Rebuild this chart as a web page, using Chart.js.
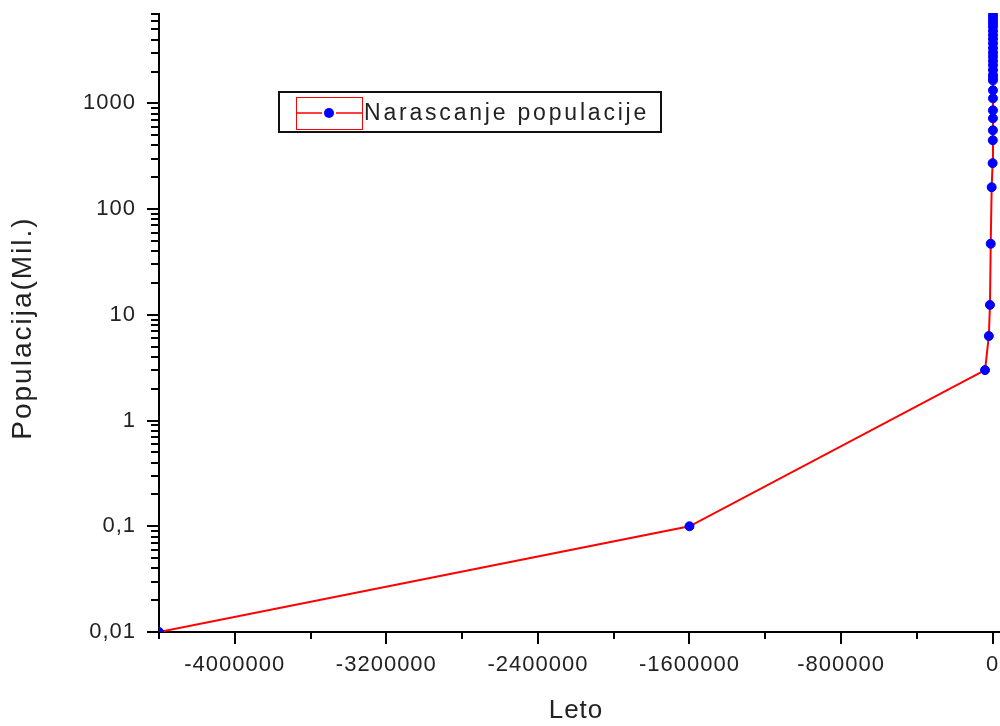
<!DOCTYPE html>
<html><head><meta charset="utf-8">
<script src="https://cdn.jsdelivr.net/npm/chart.js@4"></script>
<style>html,body{margin:0;padding:0;background:#fff}#wrap{width:1000px;height:726px}</style>
</head><body><div id="wrap"><canvas id="c" width="1000" height="726"></canvas></div>
<script>
const years = [-4400000, -1600000, -40000, -20000, -14000, -10000, -5000, 1, 1000, 1500, 1600, 1700, 1800, 1850, 1900, 1910, 1920, 1930, 1940, 1950, 1955, 1960, 1965, 1970, 1975, 1980, 1985, 1990, 1995, 2000, 2005, 2010];
const population = [0.01, 0.1, 3, 6.3, 12.4, 47, 161, 272, 448, 556, 722, 859, 1115, 1330, 1650, 1750, 1860, 2070, 2300, 2520, 2770, 3020, 3330, 3700, 4070, 4440, 4850, 5310, 5720, 6120, 6500, 6900];
const xTickValues = [-4000000, -3200000, -2400000, -1600000, -800000, 0];
const xMinorValues = [-4400000, -3600000, -2800000, -2000000, -1200000, -400000];
const yTickValues = [0.01, 0.1, 1, 10, 100, 1000];
const yTickLabels = ['0,01', '0,1', '1', '10', '100', '1000'];
const seriesLabel = 'Narascanje populacije';
const xTitle = 'Leto';
const yTitle = 'Populacija(Mil.)';

const textColor = '#222';
const fontFamily = "'Liberation Sans', Arial, sans-serif";

const axisPlugin = {
  id: 'axisDecor',
  beforeDraw(chart) {
    chart.ctx.letterSpacing = '1px';
  },
  afterDraw(chart) {
    const ctx = chart.ctx, xs = chart.scales.x, ys = chart.scales.y, a = chart.chartArea;
    ctx.save();
    ctx.strokeStyle = '#000';
    ctx.lineWidth = 2;
    ctx.beginPath();
    xTickValues.forEach(v => { const p = Math.round(xs.getPixelForValue(v)); ctx.moveTo(p, a.bottom); ctx.lineTo(p, a.bottom + 12); });
    xMinorValues.forEach(v => { const p = Math.round(xs.getPixelForValue(v)); ctx.moveTo(p, a.bottom); ctx.lineTo(p, a.bottom + 7); });
    yTickValues.forEach(v => { const p = Math.round(ys.getPixelForValue(v)); ctx.moveTo(a.left - 12, p); ctx.lineTo(a.left, p); });
    for (let e = -2; e <= 3; e++) {
      for (let k = 2; k <= 9; k++) {
        const v = k * Math.pow(10, e);
        if (v > ys.max) continue;
        const p = Math.round(ys.getPixelForValue(v));
        ctx.moveTo(a.left - 8, p); ctx.lineTo(a.left, p);
      }
    }
    ctx.moveTo(a.right, a.bottom); ctx.lineTo(1000, a.bottom);
    ctx.stroke();

    // y axis title
    ctx.save();
    ctx.translate(23, 328);
    ctx.rotate(-Math.PI / 2);
    ctx.fillStyle = textColor;
    ctx.font = "28px " + fontFamily;
    ctx.letterSpacing = '2px';
    ctx.textAlign = 'center';
    ctx.textBaseline = 'middle';
    ctx.fillText(yTitle, 0, 0);
    ctx.restore();

    // legend box
    const ds = chart.data.datasets[0];
    const bx = 279, by = 92, bw = 382, bh = 40;
    ctx.lineWidth = 2;
    ctx.strokeStyle = '#111';
    ctx.fillStyle = '#fff';
    ctx.fillRect(bx, by, bw, bh);
    ctx.strokeRect(bx, by, bw, bh);
    ctx.lineWidth = 1;
    ctx.strokeStyle = ds.borderColor;
    ctx.strokeRect(296.5, 97.5, 66, 32);
    ctx.lineWidth = 1.5;
    ctx.beginPath();
    ctx.moveTo(296, 113); ctx.lineTo(322, 113);
    ctx.moveTo(336, 113); ctx.lineTo(363, 113);
    ctx.stroke();
    ctx.fillStyle = ds.pointBackgroundColor;
    ctx.beginPath(); ctx.arc(329, 113, 5, 0, Math.PI * 2); ctx.fill();
    ctx.fillStyle = textColor;
    ctx.font = "23px " + fontFamily;
    ctx.letterSpacing = '2.8px';
    ctx.textBaseline = 'middle';
    ctx.textAlign = 'left';
    ctx.fillText(ds.label, 364, 114);
    ctx.restore();
    ctx.letterSpacing = '0px';
  }
};

new Chart(document.getElementById('c'), {
  type: 'scatter',
  data: {
    datasets: [{
      label: seriesLabel,
      data: years.map((x, i) => ({ x: x, y: population[i] })),
      showLine: true,
      borderColor: '#ff0000',
      borderWidth: 2,
      pointBackgroundColor: '#0000ff',
      pointBorderColor: '#0000ff',
      pointBorderWidth: 1,
      pointRadius: 4.5,
      tension: 0,
      clip: { left: 0, top: 1, right: 8, bottom: 0 }
    }]
  },
  options: {
    responsive: false,
    animation: false,
    devicePixelRatio: 1,
    layout: { padding: { top: 14, right: 7, left: 0, bottom: 0 } },
    plugins: { legend: { display: false }, tooltip: { enabled: false } },
    scales: {
      x: {
        type: 'linear',
        min: -4400000,
        max: 2010,
        afterBuildTicks: s => { s.ticks = xTickValues.map(v => ({ value: v })); },
        afterFit: s => { s.height = 94; s.paddingLeft = 0; s.paddingRight = 0; },
        ticks: {
          callback: v => String(v),
          font: { family: fontFamily, size: 22 },
          color: textColor,
          padding: 8,
          maxRotation: 0,
          autoSkip: false
        },
        grid: { display: false, drawTicks: true, tickLength: 12 },
        border: { display: true, color: '#000', width: 2 },
        title: { display: true, text: xTitle, font: { family: fontFamily, size: 26 }, color: textColor, padding: { top: 0, bottom: 0 } }
      },
      y: {
        type: 'logarithmic',
        min: 0.01,
        max: 7000,
        afterBuildTicks: s => { s.ticks = yTickValues.map(v => ({ value: v })); },
        afterFit: s => { s.width = 159; s.paddingTop = 0; s.paddingBottom = 0; },
        ticks: {
          callback: (v, i) => yTickLabels[i],
          font: { family: fontFamily, size: 22 },
          color: textColor,
          padding: 11,
          autoSkip: false
        },
        grid: { display: false, drawTicks: true, tickLength: 12 },
        border: { display: true, color: '#000', width: 2 },
        title: { display: false, text: yTitle }
      }
    }
  },
  plugins: [axisPlugin]
});
</script>
</body></html>
